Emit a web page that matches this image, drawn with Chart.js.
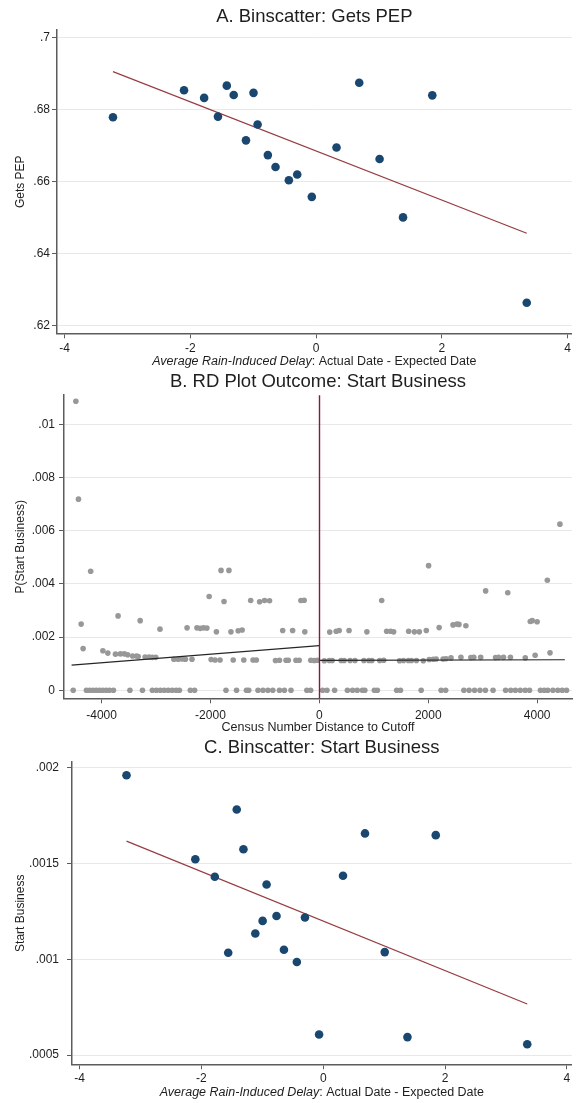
<!DOCTYPE html>
<html><head><meta charset="utf-8">
<script src="https://cdn.jsdelivr.net/npm/chart.js@4.4.1/dist/chart.umd.min.js"></script>
<style>
html,body{margin:0;padding:0;background:#fff;}
body{width:576px;height:1103px;overflow:hidden;position:relative;}
.p{position:absolute;left:0;width:576px;}
canvas{display:block;}
</style></head><body>
<div class="p" style="top:0"><canvas id="cA" width="576" height="368"></canvas></div>
<div class="p" style="top:368px"><canvas id="cB" width="576" height="368"></canvas></div>
<div class="p" style="top:736px"><canvas id="cC" width="576" height="367"></canvas></div>
<script>
// ---------- DATA ----------
// Binscatter bins (shared x for panels A and C)
const binX = [-3.23, -2.10, -1.78, -1.56, -1.42, -1.31, -1.115, -0.995, -0.93, -0.767, -0.645, -0.433, -0.30, -0.068, 0.325, 0.686, 1.01, 1.383, 1.848, 3.35];
// Panel A: Gets PEP
const pepY = [0.6778, 0.6853, 0.6832, 0.6780, 0.6866, 0.6840, 0.6714, 0.6846, 0.6758, 0.6673, 0.6640, 0.6603, 0.6619, 0.6557, 0.6694, 0.6874, 0.6662, 0.6500, 0.6839, 0.6263];
const pepFitX = [-3.23, 3.35];
const pepFitY = [0.6905, 0.6456];
const pepTicksY = [0.62, 0.64, 0.66, 0.68, 0.70];
// Panel C: Start Business
const bizY = [0.001962, 0.001523, 0.001432, 0.001035, 0.001783, 0.001575, 0.001135, 0.001201, 0.001391, 0.001227, 0.001050, 0.000986, 0.001219, 0.000608, 0.001437, 0.001658, 0.001038, 0.000594, 0.001649, 0.000557];
const bizFitX = [-3.23, 3.35];
const bizFitY = [0.001618, 0.000767];
const bizTicksY = [0.0005, 0.001, 0.0015, 0.002];
const delayTicksX = [-4, -2, 0, 2, 4];

// Panel B: RD plot, [distance, P(start business)]
const rdLeftBins = [
 [-4472,0.01087],[-4424,0.00719],[-4375,0.00249],[-4339,0.00157],[-4200,0.00448],[-3976,0.00149],[-3885,0.00140],
 [-3745,0.00136],[-3697,0.00280],[-3654,0.00137],[-3582,0.00137],[-3521,0.00134],[-3430,0.00129],[-3358,0.00129],
 [-3327,0.00127],[-3291,0.00262],[-3200,0.00125],[-3127,0.00125],[-3067,0.00124],[-3006,0.00124],[-2927,0.00230],
 [-2672,0.00117],[-2594,0.00117],[-2521,0.00118],[-2460,0.00117],[-2430,0.00235],[-2339,0.00117],[-2248,0.00235],
 [-2188,0.00233],[-2127,0.00235],[-2066,0.00234],[-2024,0.00353],[-1988,0.00116],[-1915,0.00114],[-1891,0.00220],
 [-1824,0.00114],[-1806,0.00451],[-1751,0.00334],[-1661,0.00451],[-1624,0.00220],[-1582,0.00114],[-1491,0.00224],
 [-1418,0.00227],[-1388,0.00114],[-1261,0.00338],[-1218,0.00114],[-1158,0.00114],[-1097,0.00333],[-1006,0.00338],
 [-915,0.00337],[-806,0.00112],[-733,0.00113],[-673,0.00225],[-612,0.00113],[-570,0.00113],[-491,0.00225],
 [-430,0.00113],[-370,0.00113],[-339,0.00338],[-279,0.00339],[-267,0.00220],[-158,0.00113],[-95,0.00112],[-36,0.00113]
];
const rdLeftZero = [
 [-4521,0],[-4278,0],[-4218,0],[-4157,0],[-4097,0],[-4036,0],[-3976,0],[-3915,0],[-3855,0],[-3782,0],[-3479,0],
 [-3249,0],[-3067,0],[-2994,0],[-2921,0],[-2849,0],[-2776,0],[-2703,0],[-2630,0],[-2570,0],[-2370,0],[-2291,0],
 [-1715,0],[-1521,0],[-1339,0],[-1297,0],[-1127,0],[-1036,0],[-945,0],[-855,0],[-733,0],[-642,0],[-521,0],[-230,0],[-160,0]
];
const rdRightBins = [
 [91,0.00111],[182,0.00112],[190,0.00219],[236,0.00112],[309,0.00222],[364,0.00225],[400,0.00112],[455,0.00112],
 [545,0.00225],[564,0.00112],[654,0.00112],[818,0.00112],[873,0.00220],[909,0.00112],[964,0.00112],[1109,0.00112],
 [1145,0.00338],[1182,0.00113],[1236,0.00222],[1309,0.00222],[1364,0.00220],[1473,0.00111],[1545,0.00112],
 [1636,0.00112],[1640,0.00222],[1691,0.00112],[1745,0.00220],[1782,0.00112],[1836,0.00220],[1909,0.00111],
 [1964,0.00225],[2006,0.00469],[2018,0.00116],[2091,0.00117],[2145,0.00118],[2200,0.00236],[2273,0.00118],
 [2327,0.00119],[2418,0.00122],[2455,0.00246],[2527,0.00249],[2564,0.00248],[2600,0.00124],[2691,0.00243],
 [2782,0.00123],[2836,0.00124],[2963,0.00124],[3054,0.00374],[3236,0.00123],[3291,0.00124],[3382,0.00124],
 [3460,0.00367],[3509,0.00124],[3782,0.00122],[3873,0.00259],[3909,0.00262],[3963,0.00132],[4000,0.00258],
 [4187,0.00414],[4236,0.00141],[4418,0.00625]
];
const rdRightZero = [
 [60,0],[140,0],[280,0],[515,0],[610,0],[695,0],[790,0],[835,0],[1010,0],[1065,0],[1420,0],[1490,0],[1870,0],
 [2236,0],[2320,0],[2654,0],[2750,0],[2850,0],[2950,0],[3050,0],[3190,0],[3420,0],[3515,0],[3600,0],[3690,0],
 [3780,0],[3860,0],[4060,0],[4130,0],[4195,0],[4290,0],[4380,0],[4460,0],[4540,0]
];
const rdFitLeftX = [-4551, 0];
const rdFitLeftY = [0.00095, 0.00168];
const rdFitRightX = [0, 4509];
const rdFitRightY = [0.00113, 0.00115];
const rdCutoff = 0;
const rdTicksY = [0, 0.002, 0.004, 0.006, 0.008, 0.01];
const rdTicksX = [-4000, -2000, 0, 2000, 4000];

// ---------- STYLE ----------
const FONT = '"Liberation Sans", Arial, Helvetica, sans-serif';
const TEXT = '#1e1e1e';
const AXIS = '#5c5c5c';
const GRID = '#e8e8e8';
const NAVY = 'rgb(26,71,111)';
const MAROON = 'rgb(150,60,66)';
const GRAYDOT = 'rgb(152,152,152)';

function fmtY(v){ if (v === 0) return '0'; return String(+v.toFixed(6)).replace(/^(-?)0\./, '$1.'); }
const pts = (xs, ys) => xs.map((x, i) => ({x, y: ys[i]}));
const pairs = arr => arr.map(p => ({x: p[0], y: p[1]}));

const xTitlePlugin = {
  id: 'xTitle',
  afterDraw(chart, args, opts) {
    if (!opts || !opts.parts) return;
    const {ctx, chartArea} = chart;
    ctx.save();
    ctx.textBaseline = 'middle';
    ctx.textAlign = 'left';
    ctx.fillStyle = TEXT;
    const fonts = opts.parts.map(p => (p.italic ? 'italic ' : '') + opts.size + 'px ' + FONT);
    const widths = opts.parts.map((p, i) => { ctx.font = fonts[i]; return ctx.measureText(p.text).width; });
    const total = widths.reduce((a, b) => a + b, 0);
    let x = (chartArea.left + chartArea.right) / 2 - total / 2;
    const y = chartArea.bottom + opts.offset;
    opts.parts.forEach((p, i) => { ctx.font = fonts[i]; ctx.fillText(p.text, x, y); x += widths[i]; });
    ctx.restore();
  }
};
const cutoffPlugin = {
  id: 'cutoff',
  afterDatasetsDraw(chart, args, opts) {
    if (!opts || opts.value === undefined) return;
    const {ctx, chartArea} = chart;
    const x = Math.round(chart.scales.x.getPixelForValue(opts.value)) + 0.5;
    ctx.save();
    ctx.strokeStyle = opts.color; ctx.lineWidth = 1.4;
    ctx.beginPath(); ctx.moveTo(x, chartArea.top); ctx.lineTo(x, chartArea.bottom); ctx.stroke();
    ctx.restore();
  }
};

function yScale(o) {
  return {
    type: 'linear', position: 'left', min: o.min, max: o.max,
    afterBuildTicks: s => { s.ticks = o.ticks.map(v => ({value: v})); },
    afterFit: s => { s.width = o.width; },
    grid: {color: GRID, lineWidth: 1, drawTicks: true, tickLength: 5, tickColor: AXIS, tickWidth: 1},
    border: {display: true, color: AXIS, width: 1.5},
    ticks: {color: TEXT, font: {family: FONT, size: 12}, padding: o.pad, autoSkip: false, callback: v => fmtY(v)},
    title: {display: true, text: o.title, color: TEXT, font: {family: FONT, size: 12}, padding: {top: o.tpad, bottom: 0}}
  };
}
function xScale(o) {
  return {
    type: 'linear', position: 'bottom', min: o.min, max: o.max,
    afterBuildTicks: s => { s.ticks = o.ticks.map(v => ({value: v})); },
    afterFit: s => { s.height = o.height; },
    grid: {drawOnChartArea: false, drawTicks: true, tickLength: 5, tickColor: AXIS, tickWidth: 1},
    border: {display: true, color: AXIS, width: 1.5},
    ticks: {color: TEXT, font: {family: FONT, size: 12}, padding: o.pad, maxRotation: 0, autoSkip: false, callback: v => String(v)},
    title: {display: false}
  };
}
function basePlugins(title, tpad, xt) {
  return {
    legend: {display: false}, tooltip: {enabled: false},
    title: {display: true, text: title, fullSize: false, color: TEXT, font: {family: FONT, size: 18.5, weight: 'normal'}, padding: tpad},
    xTitle: xt
  };
}
const delayTitle = [{text: 'Average Rain-Induced Delay', italic: true}, {text: ': Actual Date - Expected Date', italic: false}];

// Panel A
new Chart(document.getElementById('cA'), {
  type: 'scatter',
  data: {datasets: [
    {data: pts(binX, pepY), backgroundColor: NAVY, borderWidth: 0, pointRadius: 4.3},
    {data: pts(pepFitX, pepFitY), showLine: true, borderColor: MAROON, borderWidth: 1.2, pointRadius: 0}
  ]},
  options: {
    responsive: false, animation: false, layout: {padding: 0},
    scales: {
      x: xScale({min: -4.12, max: 4.065, ticks: delayTicksX, height: 34.7, pad: 3}),
      y: yScale({min: 0.6178, max: 0.702, ticks: pepTicksY, width: 57, pad: 2, title: 'Gets PEP', tpad: 13})
    },
    plugins: basePlugins('A. Binscatter: Gets PEP', {top: 6, bottom: 2}, {parts: delayTitle, offset: 28.5, size: 12.5})
  },
  plugins: [xTitlePlugin]
});

// Panel B
new Chart(document.getElementById('cB'), {
  type: 'scatter',
  data: {datasets: [
    {data: pts(rdFitLeftX, rdFitLeftY), showLine: true, borderColor: '#262626', borderWidth: 1.2, pointRadius: 0},
    {data: pts(rdFitRightX, rdFitRightY), showLine: true, borderColor: '#262626', borderWidth: 1.2, pointRadius: 0},
    {data: pairs(rdLeftBins).concat(pairs(rdLeftZero)), backgroundColor: GRAYDOT, borderWidth: 0, pointRadius: 2.8},
    {data: pairs(rdRightBins).concat(pairs(rdRightZero)), backgroundColor: GRAYDOT, borderWidth: 0, pointRadius: 2.8}
  ]},
  options: {
    responsive: false, animation: false, layout: {padding: 0},
    scales: {
      x: xScale({min: -4690, max: 4640, ticks: rdTicksX, height: 37.7, pad: 5}),
      y: yScale({min: -0.0003, max: 0.0111, ticks: rdTicksY, width: 64, pad: 4, title: 'P(Start Business)', tpad: 13})
    },
    plugins: Object.assign(basePlugins('B. RD Plot Outcome: Start Business', {top: 3, bottom: 2},
      {parts: [{text: 'Census Number Distance to Cutoff', italic: false}], offset: 29.5, size: 12.5}),
      {cutoff: {value: rdCutoff, color: 'rgb(136,22,72)'}})
  },
  plugins: [xTitlePlugin, cutoffPlugin]
});

// Panel C
new Chart(document.getElementById('cC'), {
  type: 'scatter',
  data: {datasets: [
    {data: pts(binX, bizY), backgroundColor: NAVY, borderWidth: 0, pointRadius: 4.3},
    {data: pts(bizFitX, bizFitY), showLine: true, borderColor: MAROON, borderWidth: 1.2, pointRadius: 0}
  ]},
  options: {
    responsive: false, animation: false, layout: {padding: 0},
    scales: {
      x: xScale({min: -4.125, max: 4.08, ticks: delayTicksX, height: 38.7, pad: 2}),
      y: yScale({min: 0.000452, max: 0.00203, ticks: bizTicksY, width: 72, pad: 8, title: 'Start Business', tpad: 13})
    },
    plugins: basePlugins('C. Binscatter: Start Business', {top: 1, bottom: 3}, {parts: delayTitle, offset: 28.5, size: 12.5})
  },
  plugins: [xTitlePlugin]
});
</script>
</body></html>
